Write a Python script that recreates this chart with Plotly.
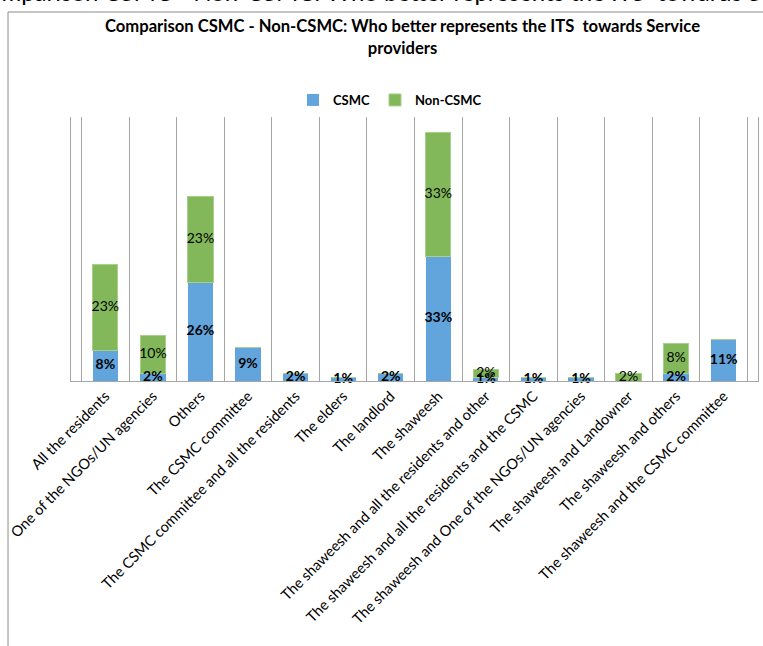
import plotly.graph_objects as go

# Categories and shares (%) for the two groups
categories = [
    "All the residents",
    "One of the NGOs/UN agencies",
    "Others",
    "The CSMC committee",
    "The CSMC committee and all the residents",
    "The elders",
    "The landlord",
    "The shaweesh",
    "The shaweesh and all the residents and other",
    "The shaweesh and all the residents and the CSMC",
    "The shaweesh and One of the NGOs/UN agencies",
    "The shaweesh and Landowner",
    "The shaweesh and others",
    "The shaweesh and the CSMC committee",
]
csmc = [8, 2, 26, 9, 2, 1, 2, 33, 1, 1, 1, 0, 2, 11]
non_csmc = [23, 10, 23, 0, 0, 0, 0, 33, 2, 0, 0, 2, 8, 0]

title_text = "Comparison CSMC - Non-CSMC: Who better represents the ITS  towards Service<br>providers"
page_heading = "Comparison CSMC - Non-CSMC: Who better represents the ITS  towards Service providers"

FONT = "Lato, 'Open Sans', sans-serif"
BLUE = "#62A4DC"
GREEN = "#82B85A"
GRID = "#A6A6A6"

W, H = 763, 646
L, R, T, B = 71, 758, 117, 381  # plot area in pixels


def px_x(x):
    return (x - L) / (R - L)


def px_y(y):
    return (B - y) / (B - T)


fig = go.Figure()
fig.add_trace(go.Bar(
    x=categories, y=csmc, name="CSMC",
    marker=dict(color=BLUE, line=dict(width=0)),
    hoverinfo="skip",
))
fig.add_trace(go.Bar(
    x=categories, y=non_csmc, name="Non-CSMC",
    marker=dict(color=GREEN, line=dict(width=1, color="#A8D08D")),
    hoverinfo="skip",
))

# Segment labels centred on each stacked segment
cx, cy, ct = [], [], []
for c, v in zip(categories, csmc):
    if v > 0:
        cx.append(c); cy.append(v / 2); ct.append(f"{v}%")
nx, ny, nt = [], [], []
for c, v, n in zip(categories, csmc, non_csmc):
    if n > 0:
        nx.append(c); ny.append(v + n / 2); nt.append(f"{n}%")

fig.add_trace(go.Scatter(
    x=cx, y=cy, text=ct, mode="text", showlegend=False, hoverinfo="skip",
    cliponaxis=False,
    textfont=dict(family=FONT, size=14, color="#000000", weight="bold"),
))
fig.add_trace(go.Scatter(
    x=nx, y=ny, text=nt, mode="text", showlegend=False, hoverinfo="skip",
    cliponaxis=False,
    textfont=dict(family=FONT, size=14, color="#000000"),
))

fig.update_layout(
    width=W, height=H,
    margin=dict(l=L, r=W - R, t=T, b=H - B),
    paper_bgcolor="white", plot_bgcolor="white",
    barmode="stack", bargap=0.47,
    font=dict(family=FONT, color="#000000"),
    showlegend=True,
    legend=dict(
        orientation="h", x=px_x(390), y=px_y(100),
        xanchor="center", yanchor="middle",
        font=dict(family=FONT, size=13, weight="bold"),
        itemwidth=30, traceorder="normal",
    ),
    xaxis=dict(
        type="category", tickson="boundaries", showgrid=True,
        gridcolor=GRID, gridwidth=1, showline=True, linecolor=GRID,
        ticks="", tickangle=-45,
        tickfont=dict(family=FONT, size=14.6, color="#000000"),
    ),
    yaxis=dict(
        range=[0, 70], showgrid=False, zeroline=False,
        showticklabels=False, ticks="", showline=True, mirror=True,
        linecolor=GRID,
    ),
    annotations=[
        dict(
            text="<b>" + title_text + "</b>", xref="paper", yref="paper",
            x=px_x(402), y=px_y(37), xanchor="center", yanchor="middle",
            showarrow=False, align="center",
            font=dict(family=FONT, size=16.6, color="#000000"),
        ),
        dict(
            text=page_heading, xref="paper", yref="paper",
            x=px_x(-30), y=px_y(-9), xanchor="left", yanchor="middle",
            showarrow=False,
            font=dict(family=FONT, size=24, color="#000000"),
        ),
    ],
    shapes=[
        # chart frame (left and top edges)
        dict(type="line", xref="paper", yref="paper",
             x0=px_x(8), x1=px_x(8), y0=px_y(12), y1=px_y(H + 5),
             line=dict(color="#8C8C8C", width=1)),
        dict(type="line", xref="paper", yref="paper",
             x0=px_x(8), x1=px_x(W + 5), y0=px_y(12), y1=px_y(12),
             line=dict(color="#8C8C8C", width=1)),
    ],
)

fig.write_html("out.html")
